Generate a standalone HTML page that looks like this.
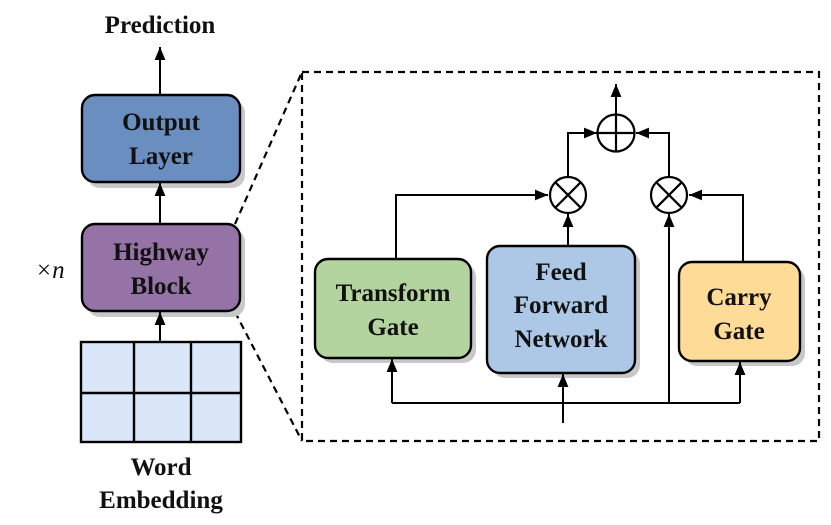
<!DOCTYPE html>
<html><head><meta charset="utf-8"><style>html,body{margin:0;padding:0;background:#fff}svg{display:block}svg text{font-family:"Liberation Serif","DejaVu Serif",serif;font-weight:bold;font-size:25px;fill:#111;text-anchor:middle}</style></head><body>
<svg width="831" height="525" viewBox="0 0 831 525" xmlns="http://www.w3.org/2000/svg" font-family="Liberation Serif, serif">
<defs>
<marker id="a" viewBox="0 0 12 10" refX="12" refY="5" markerWidth="6.5" markerHeight="5.5" orient="auto-start-reverse" markerUnits="strokeWidth"><path d="M0,0L12,5L0,10z" fill="#000"/></marker>
</defs>
<g stroke="#000" stroke-width="2.2" fill="none">
<rect x="302" y="72" width="517" height="369" stroke-dasharray="7,5"/>
<line x1="235" y1="224" x2="302" y2="72" stroke-dasharray="7,5"/>
<line x1="235" y1="312" x2="302" y2="441" stroke-dasharray="7,5"/>
</g>
<g fill="#c8c8c8">
<rect x="87" y="100" width="158" height="88" rx="13"/>
<rect x="87" y="229" width="158" height="88" rx="13"/>
<rect x="320" y="264" width="156" height="99" rx="13"/>
<rect x="492" y="251" width="148" height="127" rx="13"/>
<rect x="684" y="267" width="121" height="99" rx="13"/>
</g>
<g stroke="#000" stroke-width="2.4">
<rect x="82" y="95" width="158" height="87" rx="13" fill="#6a8ebf"/>
<rect x="82" y="224" width="158" height="87" rx="13" fill="#9673a6"/>
<rect x="315" y="259" width="156" height="99" rx="13" fill="#b3d39f"/>
<rect x="487" y="246" width="148" height="127" rx="13" fill="#adc7e6"/>
<rect x="679" y="262" width="121" height="99" rx="13" fill="#fedb97"/>
<rect x="81" y="342" width="160" height="100" fill="#d9e7f9"/>
<line x1="134" y1="342" x2="134" y2="442"/><line x1="191" y1="342" x2="191" y2="442"/><line x1="81" y1="393" x2="241" y2="393"/>
</g>
<g stroke="#000" stroke-width="2" fill="none">
<line x1="160" y1="95" x2="160" y2="47" marker-end="url(#a)"/>
<line x1="160" y1="224" x2="160" y2="183" marker-end="url(#a)"/>
<line x1="160" y1="342" x2="160" y2="312" marker-end="url(#a)"/>
<line x1="563" y1="423" x2="563" y2="374" marker-end="url(#a)"/>
<polyline points="392,403 740,403"/>
<line x1="392" y1="403" x2="392" y2="359" marker-end="url(#a)"/>
<line x1="740" y1="403" x2="740" y2="362" marker-end="url(#a)"/>
<line x1="669" y1="403" x2="669" y2="214" marker-end="url(#a)"/>
<polyline points="396,259 396,195 548,195" marker-end="url(#a)"/>
<polyline points="743,262 743,195 689,195" marker-end="url(#a)"/>
<line x1="568" y1="246" x2="568" y2="214" marker-end="url(#a)"/>
<polyline points="568,176 568,133 597,133" marker-end="url(#a)"/>
<polyline points="669,176 669,133 636,133" marker-end="url(#a)"/>
<line x1="616" y1="114" x2="616" y2="84" marker-end="url(#a)"/>
</g>
<g stroke="#000" stroke-width="2.2" fill="#fff">
<circle cx="616" cy="133" r="18.5"/>
<circle cx="568" cy="195" r="18"/>
<circle cx="669" cy="195" r="18"/>
</g>
<g stroke="#000" stroke-width="2.2">
<line x1="597.5" y1="133" x2="634.5" y2="133"/><line x1="616" y1="114.5" x2="616" y2="151.5"/>
<line x1="555.3" y1="182.3" x2="580.7" y2="207.7"/><line x1="580.7" y1="182.3" x2="555.3" y2="207.7"/>
<line x1="656.3" y1="182.3" x2="681.7" y2="207.7"/><line x1="681.7" y1="182.3" x2="656.3" y2="207.7"/>
</g>
<g font-family="Liberation Serif, serif" font-weight="bold" font-size="25" text-anchor="middle" fill="#111">
<text x="160" y="33">Prediction</text>
<text x="161" y="130">Output</text>
<text x="161" y="164">Layer</text>
<text x="161" y="260">Highway</text>
<text x="161" y="294">Block</text>
<text x="161" y="475">Word</text>
<text x="161" y="508">Embedding</text>
<text x="393" y="301">Transform</text>
<text x="393" y="335">Gate</text>
<text x="561" y="280">Feed</text>
<text x="561" y="313">Forward</text>
<text x="561" y="347">Network</text>
<text x="739" y="305">Carry</text>
<text x="739" y="339">Gate</text>
</g>
<text x="50" y="278" font-family="Liberation Serif, serif" style="font-weight:normal;font-style:italic;font-size:25px">×n</text>
</svg>
</body></html>
